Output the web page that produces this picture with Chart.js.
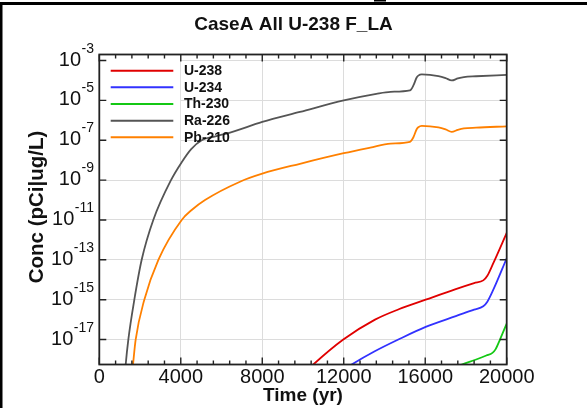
<!DOCTYPE html>
<html>
<head>
<meta charset="utf-8">
<script src="https://cdn.jsdelivr.net/npm/chart.js@4.4.1/dist/chart.umd.min.js"></script>
<style>
  html, body { margin: 0; padding: 0; background: #fff; }
  #wrap { width: 587px; height: 408px; position: relative; }
</style>
</head>
<body>
<div id="wrap"><canvas id="c" width="587" height="408"></canvas></div>
<script>
// ---------- data (time in yr, concentration in pCi|ug/L) ----------
const chartTitle = 'CaseA All U-238 F_LA';
const xTitle = 'Time (yr)';
const yTitle = 'Conc (pCi|ug/L)';
const seriesNames = ['U-238', 'U-234', 'Th-230', 'Ra-226', 'Pb-210'];
const xTickValues = [0, 4000, 8000, 12000, 16000, 20000];
const yTickExponents = [-17, -15, -13, -11, -9, -7, -5, -3];

const timeU238 = [10300, 10506, 11978, 13535, 14700, 16023, 17500, 18400, 18850, 19050, 19343, 20000];
const concU238 = [3.5e-19, 5.6e-19, 1e-17, 1e-16, 3.3e-16, 1e-15, 3.4e-15, 6.8e-15, 9.3e-15, 1.58e-14, 6.8e-14, 2.24e-12];

const timeU234 = [12200, 12390, 13500, 14680, 16023, 17500, 18400, 18850, 19050, 19343, 20000];
const concU234 = [4.2e-19, 5.6e-19, 2.5e-18, 1e-17, 4.3e-17, 1.5e-16, 3.16e-16, 4.7e-16, 7.9e-16, 3.16e-15, 1.2e-13];

const timeTh230 = [17300, 17800, 18500, 19000, 19300, 19450, 19670, 20000];
const concTh230 = [3.5e-19, 5.6e-19, 1e-18, 1.58e-18, 2.14e-18, 3.2e-18, 1e-17, 6.3e-17];

const timeRa226 = [1200, 1296, 1425, 1720, 2080, 2650, 3520, 4045, 4500, 5027, 5700, 6420, 8000, 9850, 12000, 13600, 14300,
                   15250, 15420, 15580, 15660, 15830, 16650, 17000, 17300, 17600, 17900, 18500, 20000];
const concRa226 = [3e-20, 5.6e-19, 1e-17, 1e-15, 1e-13, 1e-11, 1e-9, 7.9e-9, 3.5e-8, 1e-7, 1.58e-7, 2.4e-7, 8.3e-7, 2.63e-6, 1e-5, 2.14e-5, 2.69e-5,
                   3.16e-5, 5.6e-5, 1.41e-4, 1.74e-4, 2.0e-4, 1.66e-4, 1.32e-4, 1.0e-4, 1.26e-4, 1.48e-4, 1.62e-4, 1.9e-4];

const timePb210 = [1560, 1655, 1785, 2210, 2900, 4045, 4535, 5190, 6907, 8000, 9850, 12000, 13300, 14300,
                   15250, 15420, 15580, 15660, 15830, 16650, 17000, 17300, 17600, 17900, 18500, 20000];
const concPb210 = [6.3e-20, 5.6e-19, 1e-17, 1e-15, 1e-13, 1e-11, 3.16e-11, 1e-10, 8.3e-10, 2.1e-9, 6.6e-9, 2.24e-8, 4.27e-8, 6.8e-8,
                   8.3e-8, 1.41e-7, 3.55e-7, 4.47e-7, 5.25e-7, 4.37e-7, 3.47e-7, 2.63e-7, 3.31e-7, 3.89e-7, 4.27e-7, 5.0e-7];

const seriesColors = ['#e00000', '#3232ff', '#14c814', '#555555', '#ff8000'];
const seriesTimes = [timeU238, timeU234, timeTh230, timeRa226, timePb210];
const seriesConcs = [concU238, concU234, concTh230, concRa226, concPb210];

const FONT = '"Liberation Sans", Arial, Helvetica, sans-serif';
const INK = '#111';

const datasets = seriesNames.map((name, k) => ({
  label: name,
  data: seriesTimes[k].map((t, i) => ({ x: t, y: seriesConcs[k][i] })),
  borderColor: seriesColors[k],
  backgroundColor: seriesColors[k],
  borderWidth: 1.8,
  pointRadius: 0,
  fill: false,
  cubicInterpolationMode: 'monotone'
}));

const decor = {
  id: 'decor',
  beforeDatasetsDraw(chart) {
    const ctx = chart.ctx, a = chart.chartArea, xs = chart.scales.x;
    ctx.save();
    ctx.fillStyle = '#fff';
    ctx.fillRect(a.left, a.top, xs.getPixelForValue(4000) - 0.6 - a.left, 146 - a.top);
    ctx.restore();
  },
  afterDraw(chart) {
    const ctx = chart.ctx, a = chart.chartArea, xs = chart.scales.x, ys = chart.scales.y;
    ctx.save();
    ctx.strokeStyle = '#222';
    ctx.lineWidth = 1.8;
    ctx.strokeRect(a.left, a.top, a.right - a.left, a.bottom - a.top);
    ctx.lineWidth = 1.4;
    ctx.beginPath();
    for (let v = 0; v <= 20000; v += 800) {
      const px = xs.getPixelForValue(v);
      const len = (v % 4000 === 0) ? 7 : 4;
      ctx.moveTo(px, a.bottom); ctx.lineTo(px, a.bottom - len);
      ctx.moveTo(px, a.top); ctx.lineTo(px, a.top + len);
    }
    yTickExponents.forEach(e => {
      const py = ys.getPixelForValue(Math.pow(10, e));
      ctx.moveTo(a.left, py); ctx.lineTo(a.left + 7, py);
      ctx.moveTo(a.right, py); ctx.lineTo(a.right - 7, py);
    });
    ctx.stroke();

    ctx.fillStyle = INK;
    ctx.font = '20px ' + FONT;
    ctx.textAlign = 'center';
    ctx.textBaseline = 'alphabetic';
    xTickValues.forEach(v => ctx.fillText(String(v), xs.getPixelForValue(v), 383));
    yTickExponents.forEach(e => {
      const py = ys.getPixelForValue(Math.pow(10, e));
      ctx.font = '14px ' + FONT;
      const sup = '-' + String(-e);
      const supW = ctx.measureText(sup).width;
      const rightX = 94;
      ctx.textAlign = 'left';
      ctx.fillText(sup, rightX - supW, py - 8);
      ctx.font = '20px ' + FONT;
      ctx.textAlign = 'right';
      ctx.fillText('10', rightX - supW - 0.5, py + 5);
    });
    ctx.font = 'bold 19px ' + FONT;
    ctx.textAlign = 'center';
    ctx.fillText(xTitle, (a.left + a.right) / 2, 401);
    ctx.save();
    ctx.translate(37, 207);
    ctx.rotate(-Math.PI / 2);
    ctx.font = 'bold 20.5px ' + FONT;
    ctx.textBaseline = 'middle';
    ctx.fillText(yTitle, 0, 0);
    ctx.restore();
    ctx.font = 'bold 19px ' + FONT;
    ctx.textAlign = 'center';
    ctx.textBaseline = 'alphabetic';
    ctx.fillText(chartTitle, 293.5, 30);
    chart.data.datasets.forEach((ds, i) => {
      const y = 70.7 + i * 16.65;
      ctx.strokeStyle = ds.borderColor;
      ctx.lineWidth = 2;
      ctx.beginPath(); ctx.moveTo(110.7, y); ctx.lineTo(173.3, y); ctx.stroke();
      ctx.fillStyle = INK;
      ctx.font = 'bold 14px ' + FONT;
      ctx.textAlign = 'left';
      ctx.textBaseline = 'middle';
      ctx.fillText(ds.label, 184, y + 0.5);
    });
    ctx.fillStyle = '#000';
    ctx.fillRect(0, 2, 587, 3);
    ctx.fillRect(0, 2, 2.5, 406);
    ctx.fillRect(374, 0, 12, 1.5);
    ctx.restore();
  }
};

new Chart(document.getElementById('c'), {
  type: 'line',
  data: { datasets },
  options: {
    responsive: false,
    animation: false,
    devicePixelRatio: 1,
    layout: { padding: { left: 0, top: 54.5, right: 80.3, bottom: 0 } },
    plugins: { legend: { display: false }, title: { display: false }, tooltip: { enabled: false } },
    scales: {
      x: {
        type: 'linear', min: 0, max: 20000,
        ticks: { stepSize: 4000, display: false },
        grid: { color: '#dcdcdc', lineWidth: 1, drawTicks: false },
        border: { display: false },
        afterFit: s => { s.height = 43.5; }
      },
      y: {
        type: 'logarithmic', min: 5.6e-19, max: 2e-3,
        ticks: { display: false },
        afterBuildTicks: s => { s.ticks = yTickExponents.map(e => ({ value: Math.pow(10, e) })); },
        grid: { color: '#dcdcdc', lineWidth: 1, drawTicks: false },
        border: { display: false },
        afterFit: s => { s.width = 99.3; }
      }
    }
  },
  plugins: [decor]
});
</script>
</body>
</html>
